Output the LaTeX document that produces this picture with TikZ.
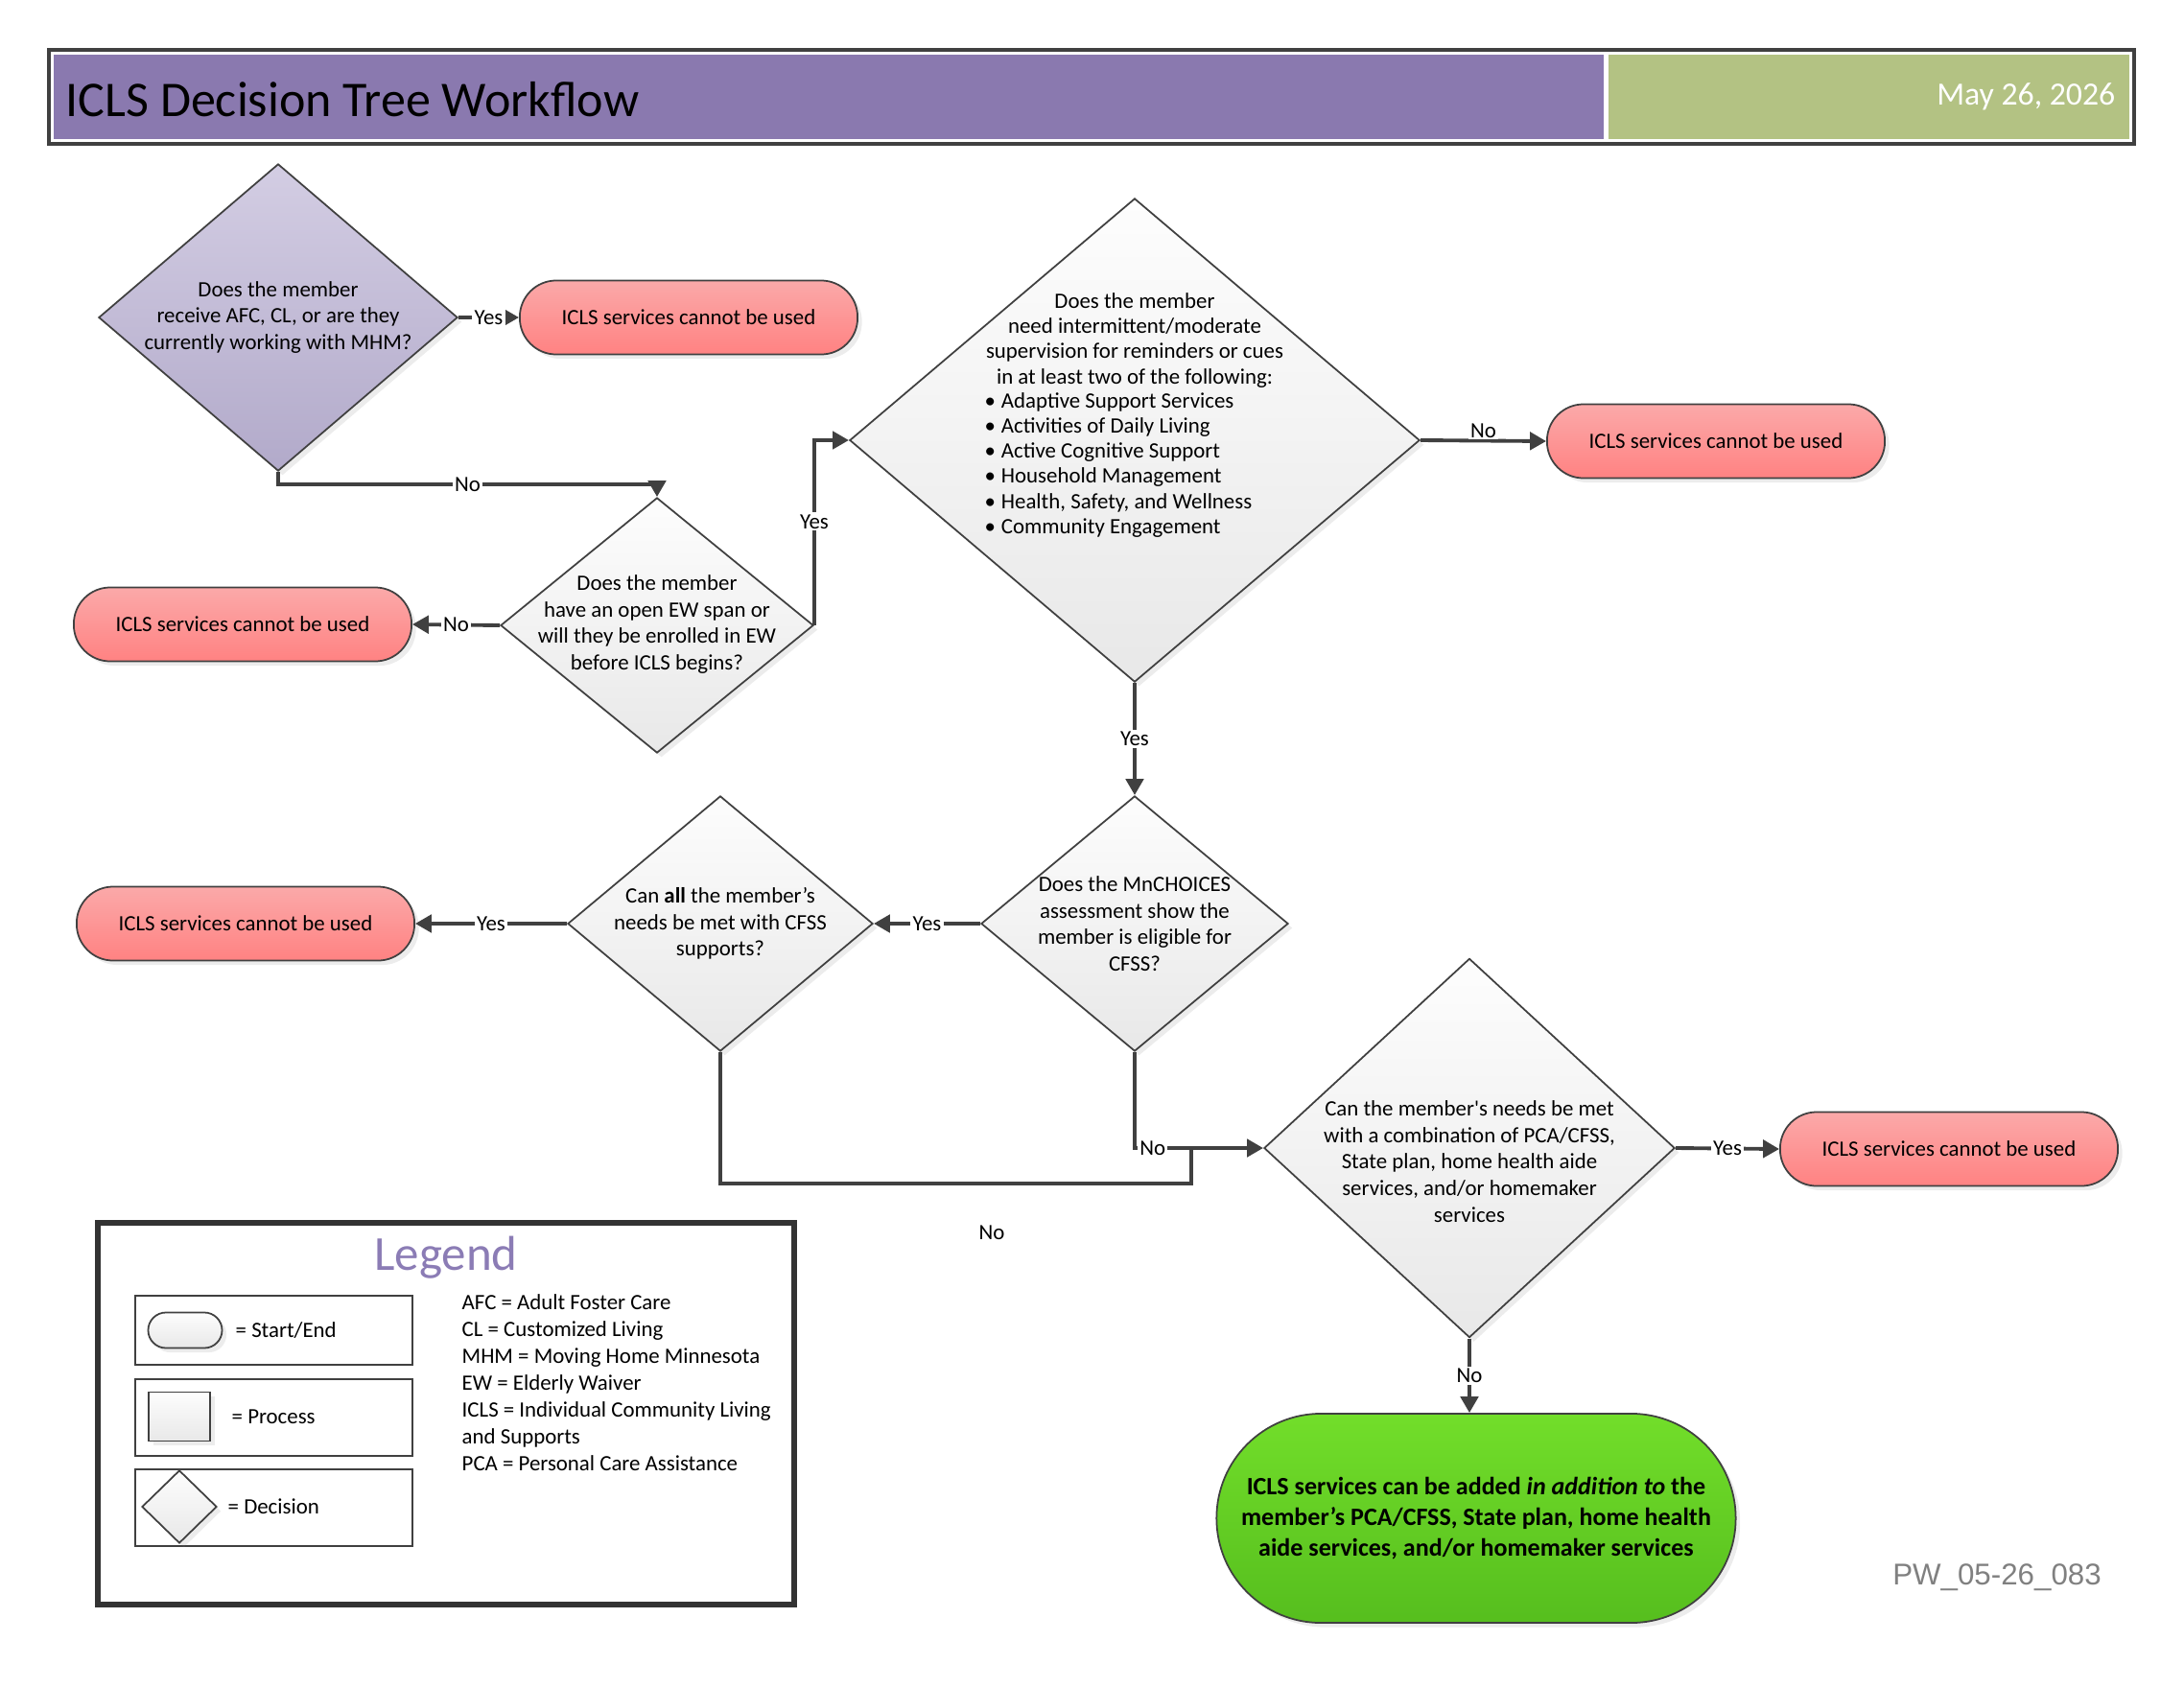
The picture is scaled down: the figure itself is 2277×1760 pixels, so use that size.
\documentclass[tikz,border=0pt]{standalone}
\usepackage{fontspec}
\setmainfont{Carlito}
\newfontfamily\arialfont{Liberation Sans}
\usetikzlibrary{shapes.geometric,arrows.meta,shadows}
\definecolor{hdrpurple}{HTML}{8A79AF}
\definecolor{hdrgreen}{HTML}{B3C283}
\definecolor{linegray}{HTML}{404040}
\definecolor{termtop}{HTML}{FBA9A9}
\definecolor{termbot}{HTML}{FF8282}
\definecolor{diatop}{HTML}{FDFDFD}
\definecolor{diabot}{HTML}{E8E8E8}
\definecolor{purtop}{HTML}{D3CDE3}
\definecolor{purbot}{HTML}{B2AACA}
\definecolor{greentop}{HTML}{72DE2A}
\definecolor{greenbot}{HTML}{56BE1E}
\definecolor{legendpurple}{HTML}{8B7CB5}
\begin{document}
\begin{tikzpicture}[x=0.01cm,y=-0.01cm,
  base/.style={draw=linegray, line width=0.5pt,
    drop shadow={opacity=0.15, shadow xshift=1.3pt, shadow yshift=-1.3pt}},
  dia/.style={base, diamond, inner sep=0pt, top color=diatop, bottom color=diabot},
  term/.style={base, rectangle, rounded corners=3.8mm, minimum width=3.52cm,
    minimum height=0.77cm, top color=termtop, bottom color=termbot,
    font=\fontsize{6.5}{7.85}\selectfont},
  dtext/.style={align=center, inner sep=0pt, font=\fontsize{6.5}{7.85}\selectfont},
  line/.style={draw=linegray, line width=1.1pt},
  arr/.style={line, -{Triangle[length=4.8pt,width=5.2pt]}},
  lbl/.style={fill=white, inner sep=0.6pt, font=\fontsize{6.5}{7.8}\selectfont}]
\useasboundingbox (0,0) rectangle (2277,1760);

% header
\draw[linegray, line width=1.2pt] (51,52) rectangle (2225,150);
\fill[hdrpurple] (56,57) rectangle (1672,145);
\fill[hdrgreen] (1677,57) rectangle (2220,145);
\node[anchor=west, inner sep=0pt, font=\fontsize{14.8}{17}\selectfont] (title) at (68,104) {ICLS Decision Tree Workflow};
\node[anchor=east, inner sep=0pt, text=white, font=\fontsize{9.6}{11}\selectfont] (date) at (2206,101) {May 26, 2026};

% decisions
\node[dia, top color=purtop, bottom color=purbot, minimum width=3.74cm, minimum height=3.20cm] (d1) at (290,331) {};
\node[dtext] (d1t) at (290,331) {Does the member\\receive AFC, CL, or are they\\currently working with MHM?};
\node[dia, minimum width=3.26cm, minimum height=2.66cm] (d2) at (685,652) {};
\node[dtext] (d2t) at (685,651) {Does the member\\have an open EW span or\\will they be enrolled in EW\\before ICLS begins?};
\node[dia, minimum width=5.94cm, minimum height=5.04cm] (d3) at (1183,459) {};
\node[dtext, font=\fontsize{6.5}{7.4}\selectfont] (d3q) at (1183,355) {Does the member\\need intermittent/moderate\\supervision for reminders or cues\\in at least two of the following:};
\node[dtext, align=left, anchor=west, font=\fontsize{6.5}{7.4}\selectfont] (d3l) at (1026,485)
  {\makebox[4.9pt][l]{\textbullet}Adaptive Support Services\\
   \makebox[4.9pt][l]{\textbullet}Activities of Daily Living\\
   \makebox[4.9pt][l]{\textbullet}Active Cognitive Support\\
   \makebox[4.9pt][l]{\textbullet}Household Management\\
   \makebox[4.9pt][l]{\textbullet}Health, Safety, and Wellness\\
   \makebox[4.9pt][l]{\textbullet}Community Engagement};
\node[dia, minimum width=3.20cm, minimum height=2.66cm] (d4) at (1183,963) {};
\node[dtext] (d4t) at (1183,963) {Does the MnCHOICES\\assessment show the\\member is eligible for\\CFSS?};
\node[dia, minimum width=3.18cm, minimum height=2.66cm] (d5) at (751,963) {};
\node[dtext] (d5t) at (751,963) {Can \textbf{all} the member’s\\needs be met with CFSS\\supports?};
\node[dia, minimum width=4.28cm, minimum height=3.95cm] (d6) at (1532,1197) {};
\node[dtext] (d6t) at (1532,1211) {Can the member\textquotesingle s needs be met\\with a combination of PCA/CFSS,\\State plan, home health aide\\services, and/or homemaker\\services};

% ends
\node[term] (t1) at (718,331) {ICLS services cannot be used};
\node[term] (t2) at (253,651) {ICLS services cannot be used};
\node[term] (t3) at (1789,460) {ICLS services cannot be used};
\node[term] (t4) at (256,963) {ICLS services cannot be used};
\node[term] (t5) at (2032,1198) {ICLS services cannot be used};
\node[term, top color=greentop, bottom color=greenbot, minimum width=5.41cm, minimum height=2.18cm,
  rounded corners=10.9mm, align=center, font=\bfseries\fontsize{7.4}{9.2}\selectfont] (g) at (1539,1583)
  {ICLS services can be added \textit{in addition to} the\\member’s PCA/CFSS, State plan, home health\\aide services, and/or homemaker services};

% connectors
\draw[arr] (d1.east) -- node[lbl]{Yes} (t1.west);
\draw[arr] (d1.south) -- ++(0,13) -| node[lbl,pos=0.25]{No} (d2.north);
\draw[arr] (d2.west) -- node[lbl]{No} (t2.east);
\draw[arr] (d2.east) |- node[lbl,pos=0.28]{Yes} (d3.west);
\draw[arr] (d3.east) -- node[lbl,yshift=3pt]{No} (t3.west);
\draw[arr] (d3.south) -- node[lbl]{Yes} (d4.north);
\draw[arr] (d4.west) -- node[lbl]{Yes} (d5.east);
\draw[arr] (d5.west) -- node[lbl]{Yes} (t4.east);
\draw[arr] (d4.south) |- node[lbl,pos=0.57]{No} (d6.west);
\coordinate (join) at (1242,1197);
\coordinate (joinlow) at (1242,1234);
\draw[line] (d5.south) |- (joinlow) -- (join);
\draw[arr] (d6.east) -- node[lbl]{Yes} (t5.west);
\draw[arr] (d6.south) -- node[lbl]{No} (d6.south |- g.north);
\node[lbl] (stray) at (1034,1285) {No};

% legend
\draw[draw=black!80, line width=1.8pt] (102,1275) rectangle (828,1673);
\node[text=legendpurple, font=\fontsize{14.5}{17}\selectfont] (legtitle) at (465,1311) {Legend};
\foreach \ya/\yb in {1351/1423, 1438/1518, 1532/1612}
  \draw[linegray, line width=0.6pt] (141,\ya) rectangle (430,\yb);
\node[base, rectangle, rounded corners=1.85mm, minimum width=0.77cm, minimum height=0.37cm,
  top color=diatop, bottom color=diabot] (lgterm) at (193,1387) {};
\node[base, rectangle, minimum width=0.64cm, minimum height=0.51cm,
  top color=diatop, bottom color=diabot] (lgproc) at (187,1477) {};
\node[dia, minimum width=0.78cm, minimum height=0.76cm] (lgdec) at (187,1571) {};
\node[dtext, anchor=west] (lgtermt) at (245,1387) {= Start/End};
\node[dtext, anchor=west] (lgproct) at (241,1477) {= Process};
\node[dtext, anchor=west] (lgdect) at (237,1571) {= Decision};
\node[dtext, align=left, anchor=north west, font=\fontsize{6.5}{7.97}\selectfont] (abbr) at (481,1349)
  {AFC = Adult Foster Care\\CL = Customized Living\\MHM = Moving Home Minnesota\\EW = Elderly Waiver\\ICLS = Individual Community Living\\and Supports\\PCA = Personal Care Assistance};

\node[text=black!50, font=\arialfont\fontsize{8.9}{10}\selectfont] (pw) at (2082,1645) {PW\_05-26\_083};
\end{tikzpicture}
\end{document}
